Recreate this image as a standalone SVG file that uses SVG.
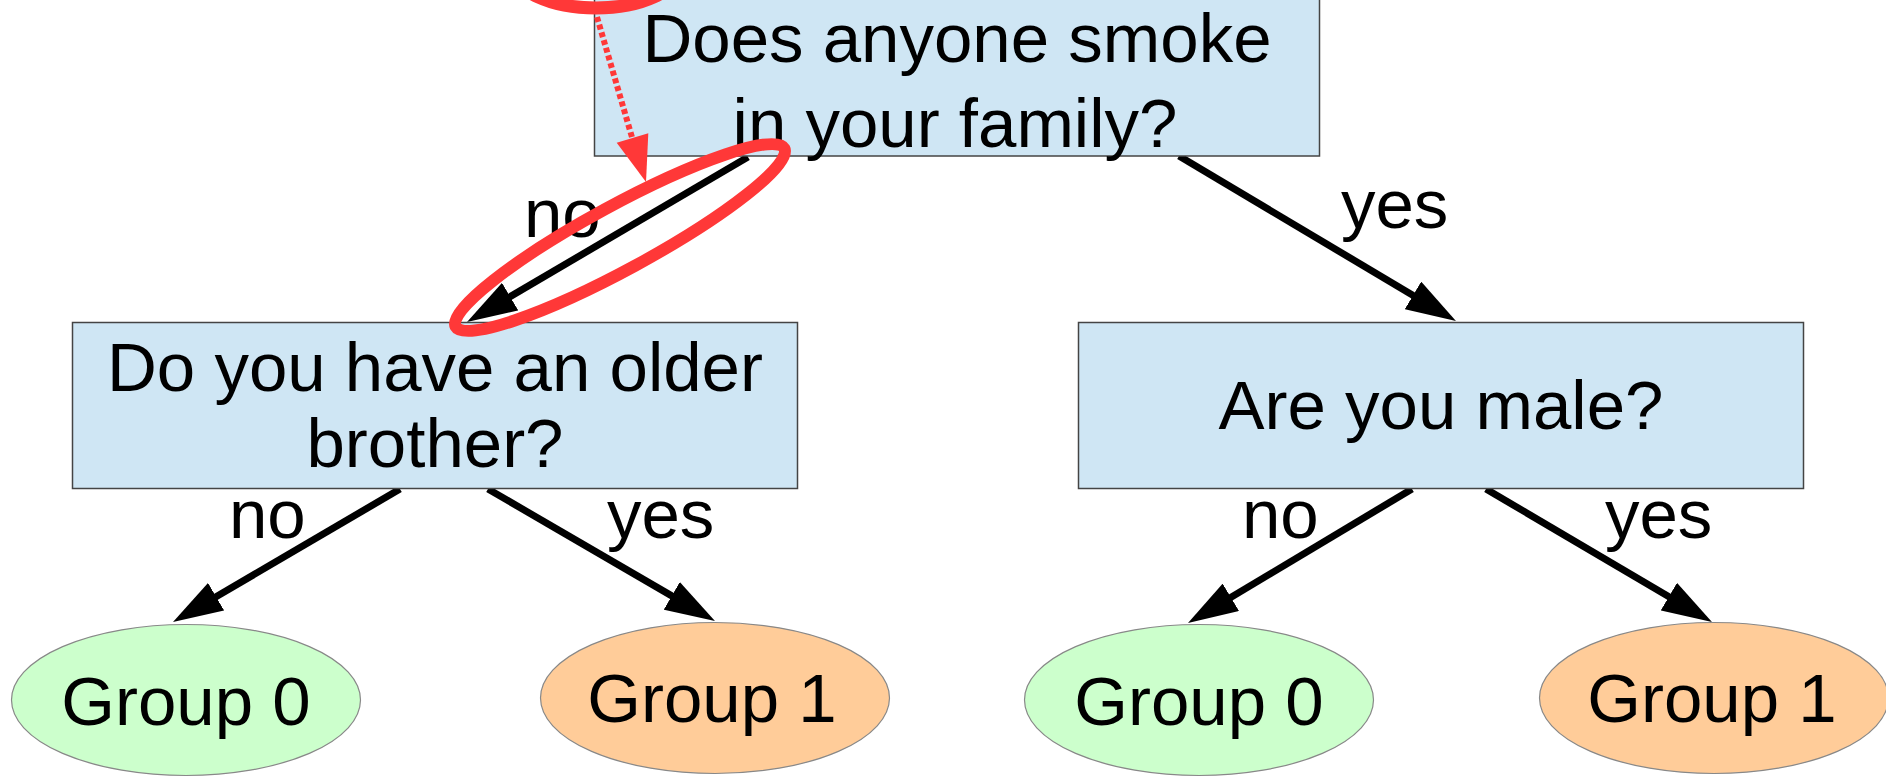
<svg xmlns="http://www.w3.org/2000/svg" width="1886" height="780" viewBox="0 0 1886 780">
<style>
.q{fill:#cfe6f4;stroke:#444;stroke-width:1.5}
.g0{fill:#ccffcc;stroke:#888;stroke-width:1.2}
.g1{fill:#ffcc99;stroke:#888;stroke-width:1.2}
text{font-family:"Liberation Sans",Arial,sans-serif;font-size:69px;fill:#000}
.c{text-anchor:middle}
.e{stroke:#000;stroke-width:7;fill:none;marker-end:url(#ah)}
.red{stroke:#ff3838;fill:none}
</style>
<defs>
<marker id="ah" markerUnits="userSpaceOnUse" viewBox="0 0 50 32" markerWidth="50" markerHeight="32" refX="10" refY="16" orient="auto">
<path d="M0,0 L50,16 L0,32 z" fill="#000"/>
</marker>
</defs>
<rect width="1886" height="780" fill="#fff"/>
<g id="connectors">
<line class="e" x1="748" y1="157" x2="501.5" y2="301.7"/>
<line class="e" x1="1179" y1="156" x2="1421.6" y2="300.5"/>
<line class="e" x1="400" y1="489" x2="207.5" y2="601.8"/>
<line class="e" x1="488" y1="489" x2="680.4" y2="600.9"/>
<line class="e" x1="1412" y1="489" x2="1222.3" y2="602.5"/>
<line class="e" x1="1486" y1="489" x2="1677.5" y2="601.7"/>
<text x="524" y="237">no</text>
<text x="1341" y="228">yes</text>
<text x="229" y="538">no</text>
<text x="607" y="538">yes</text>
<text x="1242" y="538">no</text>
<text x="1605" y="538">yes</text>
</g>
<g id="q-smoke">
<rect class="q" x="594.5" y="-2" width="725" height="158"/>
<text class="c" x="957" y="62">Does anyone smoke</text>
<text class="c" x="955" y="147">in your family?</text>
</g>
<g id="q-brother">
<rect class="q" x="72.5" y="322.5" width="725" height="166"/>
<text class="c" x="435" y="391">Do you have an older</text>
<text class="c" x="435" y="467">brother?</text>
</g>
<g id="q-male">
<rect class="q" x="1078.5" y="322.5" width="725" height="166"/>
<text class="c" x="1441" y="429">Are you male?</text>
</g>
<g id="leaf-l0">
<ellipse class="g0" cx="186" cy="700" rx="174.5" ry="75.5"/>
<text class="c" x="186" y="725">Group 0</text>
</g>
<g id="leaf-l1">
<ellipse class="g1" cx="715" cy="698" rx="174.5" ry="75.5"/>
<text class="c" x="712" y="722">Group 1</text>
</g>
<g id="leaf-r0">
<ellipse class="g0" cx="1199" cy="700" rx="174.5" ry="75.5"/>
<text class="c" x="1199" y="725">Group 0</text>
</g>
<g id="leaf-r1">
<ellipse class="g1" cx="1714" cy="698" rx="174.5" ry="75.5"/>
<text class="c" x="1712" y="722">Group 1</text>
</g>
<g id="annotation">
<ellipse class="red" cx="596" cy="-30" rx="82" ry="38" stroke-width="13"/>
<line class="red" x1="597" y1="17" x2="632.5" y2="139" stroke-width="6" stroke-dasharray="5 3"/>
<polygon points="616.7,142.7 648.3,133.3 646,182" fill="#ff3838"/>
<ellipse class="red" cx="620" cy="237.5" rx="187" ry="32" stroke-width="12" transform="rotate(-28.5 620 237.5)"/>
</g>
</svg>
